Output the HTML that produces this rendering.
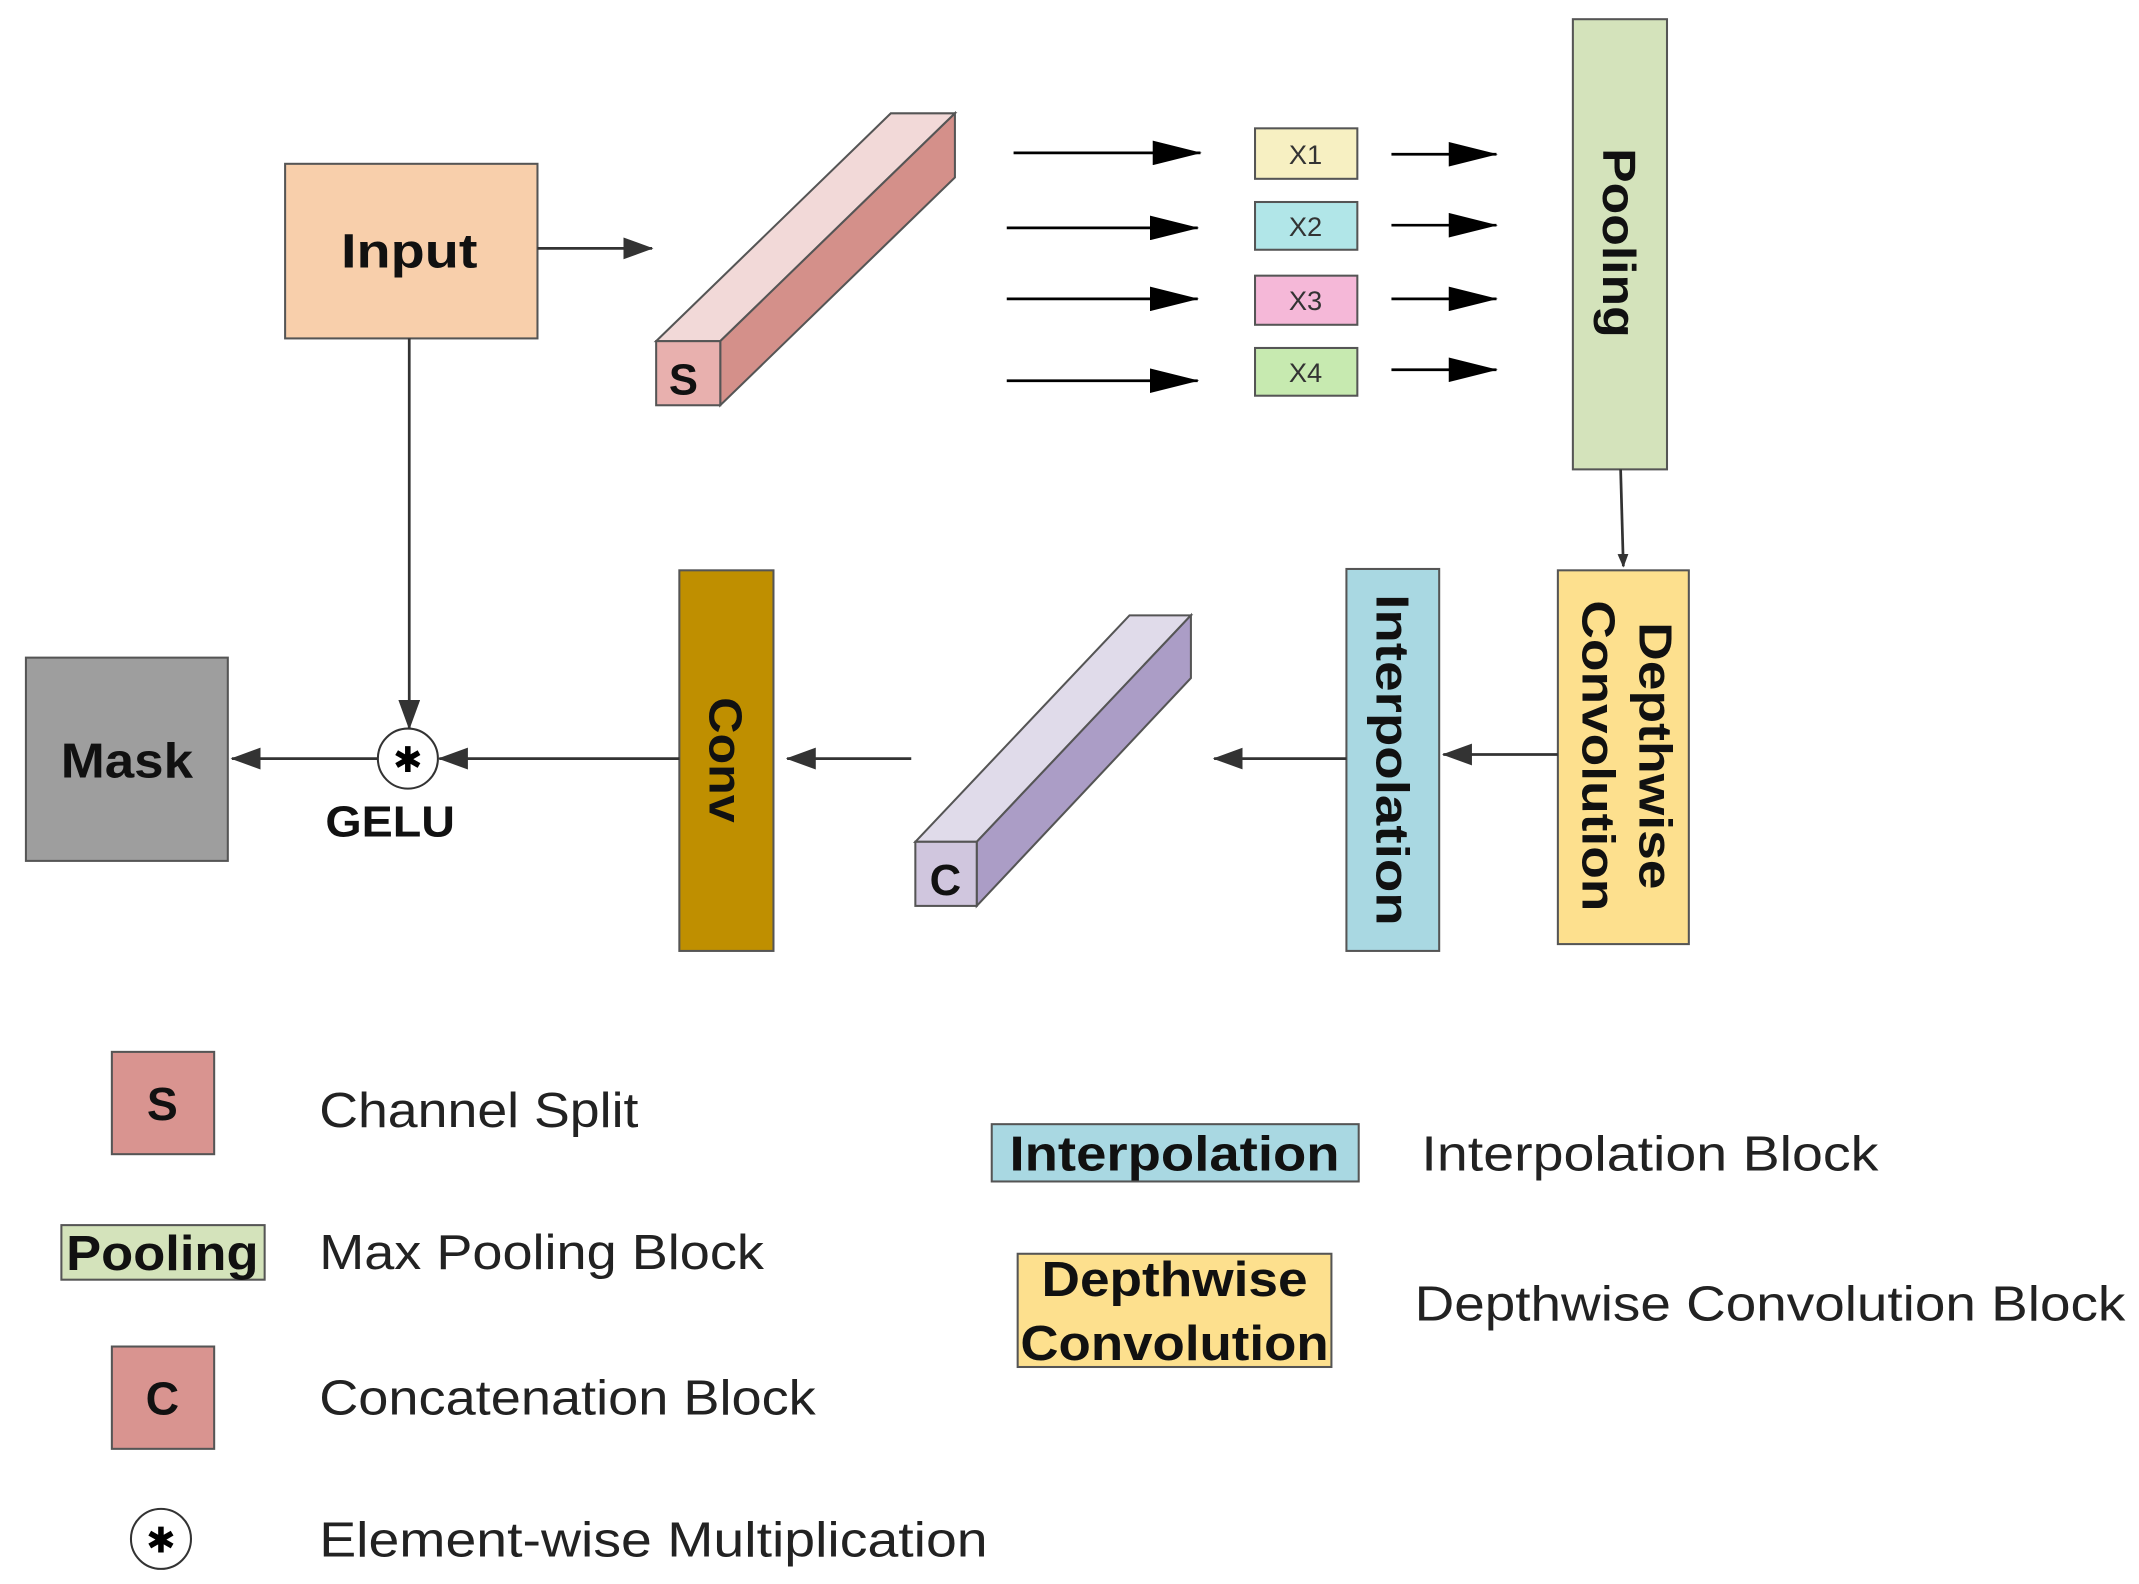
<!DOCTYPE html>
<html><head><style>html,body{margin:0;padding:0;background:#fff}svg{display:block}</style></head><body>
<svg width="2139" height="1584" viewBox="0 0 1568 1161" xmlns="http://www.w3.org/2000/svg" font-family="Liberation Sans, sans-serif">
<defs>
<marker id="a" markerWidth="10" markerHeight="8" refX="9" refY="4" orient="auto" markerUnits="userSpaceOnUse" viewBox="0 0 10 8"><path d="M0,0 L10,4 L0,8z" fill="#333"/></marker>
<marker id="b" markerWidth="36" markerHeight="18" refX="35" refY="9" orient="auto" markerUnits="userSpaceOnUse" viewBox="0 0 36 18"><path d="M0,0 L36,9 L0,18z" fill="#000"/></marker>
<marker id="m" markerWidth="22" markerHeight="16" refX="21" refY="8" orient="auto" markerUnits="userSpaceOnUse" viewBox="0 0 22 16"><path d="M0,0 L22,8 L0,16z" fill="#333"/></marker>
</defs>
<g stroke="#555" stroke-width="1.5">
<rect x="209" y="120" width="185" height="128" fill="#f8cfab"/>
<polygon points="481,250 528,250 700,83 653,83" fill="#f2d9d8"/>
<polygon points="528,250 700,83 700,130 528,297" fill="#d4908a"/>
<rect x="481" y="250" width="47" height="47" fill="#e8b0ae"/>
<rect x="920" y="94" width="75" height="37" fill="#f7f0c2"/>
<rect x="920" y="148" width="75" height="35" fill="#b1e6e8"/>
<rect x="920" y="202" width="75" height="36" fill="#f5b8d8"/>
<rect x="920" y="255" width="75" height="35" fill="#c7eab0"/>
<rect x="1153" y="14" width="69" height="330" fill="#d4e3bb"/>
<rect x="1142" y="418" width="96" height="274" fill="#fde08e"/>
<rect x="987" y="417" width="68" height="280" fill="#a9d8e2"/>
<polygon points="671,617 716,617 873,451 828,451" fill="#e0dbea"/>
<polygon points="716,617 873,451 873,497 716,664" fill="#ab9dc6"/>
<rect x="671" y="617" width="45" height="47" fill="#d0c6de"/>
<rect x="498" y="418" width="69" height="279" fill="#bf8f00"/>
<rect x="19" y="482" width="148" height="149" fill="#9e9e9e"/>
<rect x="82" y="771" width="75" height="75" fill="#d99490"/>
<rect x="45" y="898" width="149" height="40" fill="#d4e3bb"/>
<rect x="82" y="987" width="75" height="75" fill="#d99490"/>
<rect x="727" y="824" width="269" height="42" fill="#a9d8e2"/>
<rect x="746" y="919" width="230" height="83" fill="#fde08e"/>
</g>
<g stroke="#333" stroke-width="2" fill="none">
<line x1="394" y1="182" x2="478" y2="182" marker-end="url(#m)"/>
<line x1="1188" y1="344" x2="1190" y2="415" marker-end="url(#a)"/>
<line x1="1142" y1="553" x2="1058" y2="553" marker-end="url(#m)"/>
<line x1="987" y1="556" x2="890" y2="556" marker-end="url(#m)"/>
<line x1="668" y1="556" x2="577" y2="556" marker-end="url(#m)"/>
<line x1="498" y1="556" x2="322" y2="556" marker-end="url(#m)"/>
<line x1="300" y1="248" x2="300" y2="534" marker-end="url(#m)"/>
<line x1="277" y1="556" x2="170" y2="556" marker-end="url(#m)"/>
</g>
<g stroke="#000" stroke-width="2">
<line x1="743" y1="112" x2="880" y2="112" marker-end="url(#b)"/>
<line x1="738" y1="167" x2="878" y2="167" marker-end="url(#b)"/>
<line x1="738" y1="219" x2="878" y2="219" marker-end="url(#b)"/>
<line x1="738" y1="279" x2="878" y2="279" marker-end="url(#b)"/>
<line x1="1020" y1="113" x2="1097" y2="113" marker-end="url(#b)"/>
<line x1="1020" y1="165" x2="1097" y2="165" marker-end="url(#b)"/>
<line x1="1020" y1="219" x2="1097" y2="219" marker-end="url(#b)"/>
<line x1="1020" y1="271" x2="1097" y2="271" marker-end="url(#b)"/>
</g>
<g>
<circle cx="299" cy="556" r="22" fill="#fff" stroke="#333" stroke-width="1.5"/>
<text x="299" y="566" font-size="26" text-anchor="middle" font-family="DejaVu Sans, sans-serif">✱</text>
<circle cx="118" cy="1128" r="22" fill="#fff" stroke="#333" stroke-width="1.5"/>
<text x="118" y="1138" font-size="26" text-anchor="middle" font-family="DejaVu Sans, sans-serif">✱</text>
</g>
<g font-weight="bold" fill="#111" text-anchor="middle" lengthAdjust="spacingAndGlyphs">
<text x="300" y="196" font-size="35" textLength="100" lengthAdjust="spacingAndGlyphs">Input</text>
<text x="501" y="289" font-size="32">S</text>
<text x="693" y="656" font-size="32">C</text>
<text x="93" y="570" font-size="36" textLength="97" lengthAdjust="spacingAndGlyphs">Mask</text>
<text x="286" y="613" font-size="32" textLength="95" lengthAdjust="spacingAndGlyphs">GELU</text>
<text transform="translate(1175,178) rotate(90)" font-size="34" textLength="139" lengthAdjust="spacingAndGlyphs">Pooling</text>
<text transform="translate(1202,554) rotate(90)" font-size="34" textLength="196" lengthAdjust="spacingAndGlyphs">Depthwise</text>
<text transform="translate(1160,554) rotate(90)" font-size="34" textLength="228" lengthAdjust="spacingAndGlyphs">Convolution</text>
<text transform="translate(1009,557) rotate(90)" font-size="34" textLength="243" lengthAdjust="spacingAndGlyphs">Interpolation</text>
<text transform="translate(520,557) rotate(90)" font-size="34" textLength="92" lengthAdjust="spacingAndGlyphs">Conv</text>
<text x="119" y="821" font-size="34">S</text>
<text x="119" y="1037" font-size="34">C</text>
<text x="119" y="931" font-size="36" textLength="141" lengthAdjust="spacingAndGlyphs">Pooling</text>
<text x="861" y="858" font-size="36" textLength="242" lengthAdjust="spacingAndGlyphs">Interpolation</text>
<text x="861" y="950" font-size="36" textLength="195" lengthAdjust="spacingAndGlyphs">Depthwise</text>
<text x="861" y="997" font-size="36" textLength="226" lengthAdjust="spacingAndGlyphs">Convolution</text>
</g>
<g font-size="20" fill="#333" text-anchor="middle">
<text x="957" y="120">X1</text><text x="957" y="173">X2</text><text x="957" y="227">X3</text><text x="957" y="280">X4</text>
</g>
<g font-size="36" fill="#222">
<text x="234" y="826" textLength="234" lengthAdjust="spacingAndGlyphs">Channel Split</text>
<text x="234" y="930" textLength="326" lengthAdjust="spacingAndGlyphs">Max Pooling Block</text>
<text x="234" y="1037" textLength="364" lengthAdjust="spacingAndGlyphs">Concatenation Block</text>
<text x="234" y="1141" textLength="490" lengthAdjust="spacingAndGlyphs">Element-wise Multiplication</text>
<text x="1042" y="858" textLength="335" lengthAdjust="spacingAndGlyphs">Interpolation Block</text>
<text x="1037" y="968" textLength="521" lengthAdjust="spacingAndGlyphs">Depthwise Convolution Block</text>
</g>
</svg>
</body></html>
